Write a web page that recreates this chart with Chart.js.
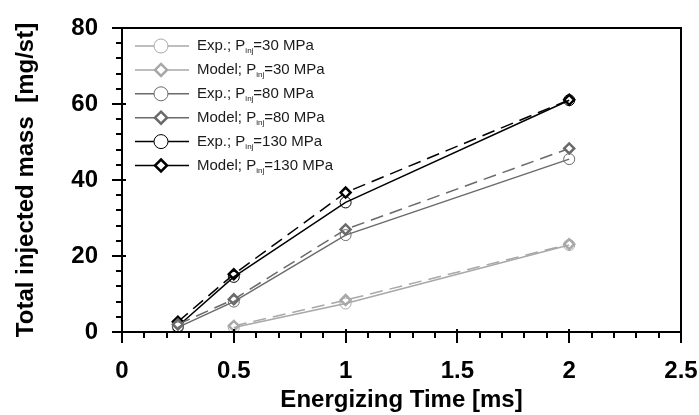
<!DOCTYPE html>
<html>
<head>
<meta charset="utf-8">
<script src="https://cdn.jsdelivr.net/npm/chart.js@4"></script>
<style>
  html, body { margin: 0; padding: 0; background: #fff; }
  #wrap { width: 699px; height: 415px; }
</style>
</head>
<body>
<div id="wrap"><canvas id="chart"></canvas></div>
<script>
"use strict";

///////////////////////////////////////
// Data (energizing time [ms] -> total injected mass [mg/st])

const time30 = [0.5, 1, 2];
const time80 = [0.25, 0.5, 1, 2];
const time130 = [0.25, 0.5, 1, 2];

const exp30 = [1.2, 7.5, 22.9];
const model30 = [1.6, 8.4, 23.1];
const exp80 = [1.2, 8.0, 25.5, 45.5];
const model80 = [2.0, 8.6, 27.0, 48.3];
const exp130 = [1.5, 14.5, 34.1, 61.0];
const model130 = [2.7, 15.2, 36.7, 61.1];

const pressures = ["30", "80", "130"];
const xTickLabels = ["0", "0.5", "1", "1.5", "2", "2.5"];
const yTickLabels = ["0", "20", "40", "60", "80"];

///////////////////////////////////////
// Styles

const colors = {
  p30: "#a8a8a8",
  p80: "#6a6a6a",
  p130: "#000000",
};

const toPoints = function (xs, ys) {
  return xs.map((x, i) => ({ x: x, y: ys[i] }));
};

const expSet = function (xs, ys, color, p) {
  return {
    label: "Exp.; P|inj|=" + p + " MPa",
    data: toPoints(xs, ys),
    borderColor: color,
    backgroundColor: "rgba(255,255,255,0)",
    borderWidth: 1.5,
    pointStyle: "circle",
    pointRadius: 5.5,
    pointBorderWidth: 1,
    pointBorderColor: color,
    pointBackgroundColor: "rgba(255,255,255,0)",
  };
};

const modelSet = function (xs, ys, color, p) {
  return {
    label: "Model; P|inj|=" + p + " MPa",
    data: toPoints(xs, ys),
    borderColor: color,
    backgroundColor: "#fff",
    borderWidth: 1.5,
    borderDash: [13, 7],
    pointStyle: "rectRot",
    pointRadius: 5,
    pointBorderWidth: 2.5,
    pointBorderColor: color,
    pointBackgroundColor: "#fff",
  };
};

const datasets = [
  expSet(time30, exp30, colors.p30, pressures[0]),
  modelSet(time30, model30, colors.p30, pressures[0]),
  expSet(time80, exp80, colors.p80, pressures[1]),
  modelSet(time80, model80, colors.p80, pressures[1]),
  expSet(time130, exp130, colors.p130, pressures[2]),
  modelSet(time130, model130, colors.p130, pressures[2]),
];

///////////////////////////////////////
// Plugins: frame, ticks, legend

const frameTicks = {
  id: "frameTicks",
  afterDraw(chart) {
    const ctx = chart.ctx;
    const a = chart.chartArea;
    const xs = chart.scales.x;
    const ys = chart.scales.y;
    ctx.save();
    ctx.strokeStyle = "#000";

    // minor + major ticks on x
    ctx.lineWidth = 2;
    for (let i = 0; i <= 25; i++) {
      const px = Math.round(xs.getPixelForValue(i / 10));
      const major = i % 5 === 0;
      ctx.beginPath();
      ctx.moveTo(px, major ? a.bottom - 3 : a.bottom);
      ctx.lineTo(px, major ? a.bottom + 11 : a.bottom + 6);
      ctx.stroke();
    }
    // minor + major ticks on y
    for (let v = 0; v <= 80; v += 4) {
      const py = Math.round(ys.getPixelForValue(v));
      const major = v % 20 === 0;
      ctx.beginPath();
      ctx.moveTo(major ? a.left + 4 : a.left, py);
      ctx.lineTo(major ? a.left - 10 : a.left - 6, py);
      ctx.stroke();
    }

    // box
    ctx.lineWidth = 2;
    ctx.beginPath();
    ctx.moveTo(a.left, a.bottom);
    ctx.lineTo(a.left, a.top);
    ctx.lineTo(a.right, a.top);
    ctx.lineTo(a.right, a.bottom);
    ctx.lineTo(a.left, a.bottom);
    ctx.stroke();
    ctx.restore();
  },
};

const subLegend = {
  id: "subLegend",
  afterDraw(chart) {
    const ctx = chart.ctx;
    const x0 = 135;
    const x1 = 189;
    const xm = 161;
    const xt = 197;
    let y = 46;
    ctx.save();
    chart.data.datasets.forEach((ds) => {
      ctx.strokeStyle = ds.borderColor;
      ctx.lineWidth = 1.5;
      ctx.beginPath();
      ctx.moveTo(x0, y);
      ctx.lineTo(x1, y);
      ctx.stroke();

      ctx.fillStyle = "#fff";
      ctx.lineWidth = ds.pointBorderWidth;
      ctx.beginPath();
      if (ds.pointStyle === "circle") {
        ctx.arc(xm, y, 7, 0, Math.PI * 2);
      } else {
        const r = 6;
        ctx.moveTo(xm, y - r);
        ctx.lineTo(xm + r, y);
        ctx.lineTo(xm, y + r);
        ctx.lineTo(xm - r, y);
        ctx.closePath();
      }
      ctx.fill();
      ctx.stroke();

      const parts = ds.label.split("|");
      ctx.fillStyle = "#1a1a1a";
      ctx.textBaseline = "middle";
      ctx.textAlign = "left";
      let tx = xt;
      ctx.font = "15px 'Liberation Sans', Arial, sans-serif";
      ctx.fillText(parts[0], tx, y);
      tx += ctx.measureText(parts[0]).width;
      ctx.font = "8px 'Liberation Sans', Arial, sans-serif";
      ctx.fillText(parts[1], tx, y + 5);
      tx += ctx.measureText(parts[1]).width;
      ctx.font = "15px 'Liberation Sans', Arial, sans-serif";
      ctx.fillText(parts[2], tx, y);

      y += 23.9;
    });
    ctx.restore();
  },
};

///////////////////////////////////////
// Chart config

const axisFont = { family: "'Liberation Sans', Arial, sans-serif", size: 24, weight: "bold" };

const config = {
  type: "line",
  data: { datasets: datasets },
  options: {
    responsive: true,
    maintainAspectRatio: false,
    animation: false,
    layout: { padding: { left: 0, top: 28, right: 18, bottom: 0 } },
    plugins: {
      legend: { display: false },
      tooltip: { enabled: false },
    },
    scales: {
      x: {
        type: "linear",
        min: 0,
        max: 2.5,
        afterFit(scale) {
          scale.height = 83;
          scale.paddingLeft = 0;
          scale.paddingRight = 0;
        },
        ticks: {
          stepSize: 0.5,
          color: "#000",
          font: axisFont,
          padding: 25,
          maxRotation: 0,
          callback: (v, i) => xTickLabels[i],
        },
        grid: { display: false, drawTicks: false },
        border: { display: false },
        title: {
          display: true,
          text: "Energizing Time [ms]",
          color: "#000",
          font: axisFont,
          padding: { top: 2, bottom: 0 },
        },
      },
      y: {
        min: 0,
        max: 80,
        afterFit(scale) {
          scale.width = 122;
          scale.paddingTop = 0;
          scale.paddingBottom = 0;
        },
        ticks: {
          stepSize: 20,
          color: "#000",
          font: axisFont,
          padding: 24,
          callback: (v, i) => yTickLabels[i],
        },
        grid: { display: false, drawTicks: false },
        border: { display: false },
        title: {
          display: true,
          text: "Total injected mass  [mg/st]",
          color: "#000",
          font: axisFont,
          padding: { top: 12, bottom: 0 },
        },
      },
    },
  },
  plugins: [frameTicks, subLegend],
};

const chart = new Chart(document.getElementById("chart"), config);
</script>
</body>
</html>
